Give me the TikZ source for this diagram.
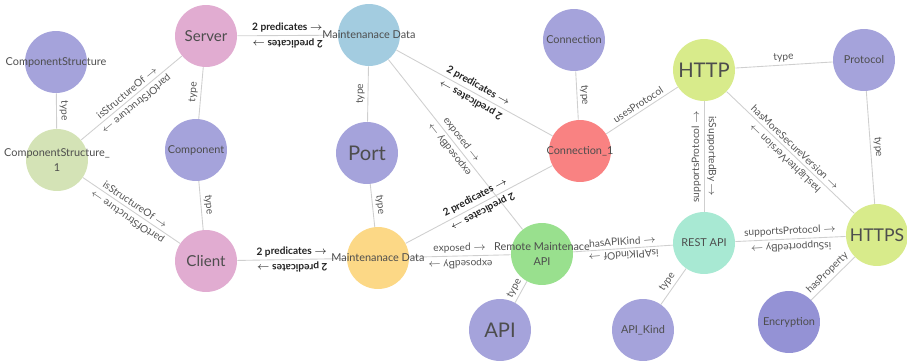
\documentclass[tikz,border=0pt]{standalone}
\usepackage{fontspec}
\setmainfont{Lato}
\usetikzlibrary{backgrounds}

\definecolor{lavender}{HTML}{A5A3DB}
\definecolor{lavdark}{HTML}{9492D5}
\definecolor{pinkish}{HTML}{E1ACD1}
\definecolor{sage}{HTML}{D4E3B6}
\definecolor{skyblue}{HTML}{A3CCE0}
\definecolor{amber}{HTML}{FCD886}
\definecolor{salmon}{HTML}{F98282}
\definecolor{lime}{HTML}{D8EB8B}
\definecolor{leaf}{HTML}{99E08E}
\definecolor{aqua}{HTML}{A8E9D3}
\definecolor{edgegray}{HTML}{CFCFCF}
\definecolor{nodetext}{HTML}{4D4D4D}
\definecolor{labtext}{HTML}{555555}
\definecolor{predtext}{HTML}{222222}

\newcommand{\relarrow}{$\rightarrow$}
\newcommand{\clab}[1]{\makebox[0pt]{#1}}

\begin{document}
\begin{tikzpicture}[
    x=0.02cm, y=-0.02cm,
    vertex/.style={circle, minimum size=1.24cm, inner sep=0pt, text=nodetext, align=center, font=\fontsize{6.2}{9}\selectfont},
    bigvertex/.style={vertex, font=\fontsize{11.5}{13}\selectfont},
    midvertex/.style={vertex, font=\fontsize{8.6}{10}\selectfont},
    rel/.style={draw=edgegray, line width=0.5pt},
    lab/.style={midway, sloped, above=0.8pt, inner sep=0.8pt, text=labtext, font=\fontsize{5.8}{7}\selectfont},
    fwd/.style={lab, allow upside down},
    pred/.style={fwd, text=predtext, font=\fontsize{5.8}{7}\selectfont\bfseries}
]
\useasboundingbox (0,0) rectangle (907,362);

% Nodes
\node[vertex, fill=lavender] (cs) at (56,62) {\clab{ComponentStructure}};
\node[vertex, fill=sage] (cs1) at (57,160) {\clab{ComponentStructure\_}\\\clab{1}};
\node[midvertex, fill=pinkish] (server) at (206,36) {\clab{Server}};
\node[vertex, fill=lavender] (component) at (196,150) {\clab{Component}};
\node[midvertex, fill=pinkish] (client) at (206,261) {\clab{Client}};
\node[vertex, fill=skyblue] (mdtop) at (369,35) {\clab{Maintenanace Data}};
\node[bigvertex, fill=lavender] (port) at (367,153) {\clab{Port}};
\node[vertex, fill=amber] (mdbot) at (378,258) {\clab{Maintenanace Data}};
\node[vertex, fill=leaf] (remote) at (542,254) {\clab{Remote Maintenace}\\\clab{API}};
\node[bigvertex, fill=lavender] (api) at (500,330) {\clab{API}};
\node[vertex, fill=lavender] (conn) at (574,40) {\clab{Connection}};
\node[vertex, fill=salmon] (conn1) at (580,151) {\clab{Connection\_1}};
\node[bigvertex, fill=lime] (http) at (704,70) {\clab{HTTP}};
\node[vertex, fill=lavender] (protocol) at (864,60) {\clab{Protocol}};
\node[vertex, fill=aqua] (rest) at (704,243) {\clab{REST API}};
\node[vertex, fill=lavender] (apikind) at (643,330) {\clab{API\_Kind}};
\node[vertex, font=\fontsize{10}{12}\selectfont, fill=lime] (https) at (877,235) {\clab{HTTPS}};
\node[vertex, fill=lavdark] (encryption) at (789,322) {\clab{Encryption}};

\begin{scope}[on background layer]
% single relations
\draw[rel] (cs) -- (cs1) node[lab] {type};
\draw[rel] (server) -- (component) node[lab] {type};
\draw[rel] (component) -- (client) node[lab] {type};
\draw[rel] (mdtop) -- (port) node[lab] {type};
\draw[rel] (port) -- (mdbot) node[lab] {type};
\draw[rel] (conn) -- (conn1) node[lab] {type};
\draw[rel] (conn1) -- (http) node[lab] {usesProtocol};
\draw[rel] (http) -- (protocol) node[lab] {type};
\draw[rel] (protocol) -- (https) node[lab] {type};
\draw[rel] (remote) -- (api) node[lab] {type};
\draw[rel] (rest) -- (apikind) node[lab] {type};
\draw[rel] (https) -- (encryption) node[lab] {hasProperty};

% relations both ways
\draw[rel] (server) -- (mdtop) node[pred] {2 predicates \relarrow};
\path (mdtop) -- (server) node[pred] {2 predicates \relarrow};
\draw[rel] (cs1) -- (server) node[fwd] {isStructureOf \relarrow};
\path (server) -- (cs1) node[fwd] {partOfStructure \relarrow};
\draw[rel] (cs1) -- (client) node[fwd] {isStructureOf \relarrow};
\path (client) -- (cs1) node[fwd] {partOfStructure \relarrow};
\draw[rel] (client) -- (mdbot) node[pred] {2 predicates \relarrow};
\path (mdbot) -- (client) node[pred] {2 predicates \relarrow};
\draw[rel] (mdtop) -- (conn1) node[pred] {2 predicates \relarrow};
\path (conn1) -- (mdtop) node[pred] {2 predicates \relarrow};
\draw[rel] (mdtop) -- (remote) node[fwd] {exposed \relarrow};
\path (remote) -- (mdtop) node[fwd] {exposedBy \relarrow};
\draw[rel] (mdbot) -- (conn1) node[pred] {2 predicates \relarrow};
\path (conn1) -- (mdbot) node[pred] {2 predicates \relarrow};
\draw[rel] (mdbot) -- (remote) node[fwd] {exposed \relarrow};
\path (remote) -- (mdbot) node[fwd] {exposedBy \relarrow};
\draw[rel] (remote) -- (rest) node[fwd] {hasAPIKind \relarrow};
\path (rest) -- (remote) node[fwd] {isAPIKindOf \relarrow};
\draw[rel] (rest) -- (https) node[fwd] {supportsProtocol \relarrow};
\path (https) -- (rest) node[fwd] {isSupportedBy \relarrow};
\draw[rel] (rest) -- (http) node[fwd] {supportsProtocol \relarrow};
\path (http) -- (rest) node[fwd] {isSupportedBy \relarrow};
\draw[rel] (http) -- (https) node[fwd] {hasMoreSecureVersion \relarrow};
\path (https) -- (http) node[fwd] {hasLighterVersion \relarrow};
\end{scope}
\end{tikzpicture}
\end{document}
